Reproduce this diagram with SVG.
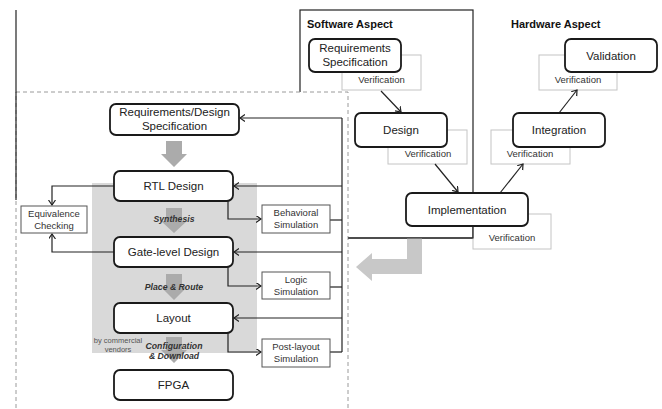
<svg xmlns="http://www.w3.org/2000/svg" width="662" height="409" viewBox="0 0 662 409">
  <style>
    text { font-family: "Liberation Sans", Arial, sans-serif; fill: #222; text-anchor: middle; }
    .node { fill: #fff; stroke: #1a1a1a; stroke-width: 1.8; }
    .t { font-size: 11.5px; }
    .box { fill: #fff; stroke: #555; stroke-width: 1; }
    .ver { fill: #fff; stroke: #c4c4c4; stroke-width: 1; }
    .s { font-size: 9.5px; fill: #333; }
    .step { font-size: 8.7px; font-weight: bold; font-style: italic; fill: #333; }
    .head { font-size: 11px; font-weight: bold; text-anchor: start; fill: #111; }
    .flow { fill: #ababab; }
    .wire { fill: none; stroke: #222; stroke-width: 1.2; }
  </style>
  <defs>
    <marker id="arr" markerUnits="userSpaceOnUse" markerWidth="8" markerHeight="8" refX="5" refY="3.5" orient="auto">
      <path d="M0,0 L5,3.5 L0,7" fill="none" stroke="#222" stroke-width="1.2"/>
    </marker>
  </defs>

  <rect width="662" height="409" fill="#fff"/>

  <!-- software aspect frame -->
  <rect x="300" y="10" width="173" height="228" fill="none" stroke="#222" stroke-width="1.2"/>
  <text class="head" x="307" y="28">Software Aspect</text>
  <text class="head" x="511" y="28">Hardware Aspect</text>

  <!-- FPGA design flow region -->
  <rect x="16" y="92" width="332" height="330" fill="#fff" stroke="#9a9a9a" stroke-width="1" stroke-dasharray="4,3"/>
  <line x1="16" y1="10" x2="16" y2="200" stroke="#222" stroke-width="1.2"/>
  <rect x="92" y="183" width="165" height="170" fill="#d9d9d9"/>

  <!-- block arrows -->
  <path class="flow" d="M166,141 H182 V154 H187 L174,167 L161,154 H166 Z" fill="#a0a0a0"/>
  <path class="flow" d="M166,208 H182 V221 H187 L174,233 L161,221 H166 Z"/>
  <path class="flow" d="M166,274 H182 V287 H187 L174,300 L161,287 H166 Z"/>
  <path class="flow" d="M166,337 H182 V350 H187 L174,363 L161,350 H166 Z"/>
  <path d="M407,238 H422 V274 H372 V281 L356,267 L372,253 V259 H407 Z" fill="#c8c8c8"/>

  <text class="step" x="174" y="222">Synthesis</text>
  <text class="step" x="174" y="290">Place &amp; Route</text>
  <text class="step" x="174" y="349">Configuration</text>
  <text class="step" x="174" y="359">&amp; Download</text>
  <text x="118" y="343" style="font-size:7.5px;fill:#555">by commercial</text>
  <text x="118" y="352" style="font-size:7.5px;fill:#555">vendors</text>

  <!-- verification boxes -->
  <g id="verif">
    <rect class="ver" x="342" y="55" width="79" height="35"/>
    <text class="s" x="381.5" y="83">Verification</text>
    <rect class="ver" x="388" y="130" width="79" height="34"/>
    <text class="s" x="428" y="157">Verification</text>
    <rect class="ver" x="473" y="214" width="78" height="35"/>
    <text class="s" x="512" y="241">Verification</text>
    <rect class="ver" x="491" y="130" width="79" height="34"/>
    <text class="s" x="530" y="157">Verification</text>
    <rect class="ver" x="539" y="55" width="78" height="35"/>
    <text class="s" x="578" y="83">Verification</text>
  </g>

  <!-- connectors -->
  <g id="connectors" class="wire">
    <path d="M381,91 L401,112" marker-end="url(#arr)"/>
    <path d="M435,164 L458,192" marker-end="url(#arr)"/>
    <path d="M500,193 L523,164" marker-end="url(#arr)"/>
    <path d="M559,113 L577,90" marker-end="url(#arr)"/>
    <path d="M473,226 V238 H348"/>

    <path d="M114,186 H52 V205" marker-end="url(#arr)"/>
    <path d="M114,252 H52 V234" marker-end="url(#arr)"/>
    <path d="M228,201 V219 H261" marker-end="url(#arr)"/>
    <path d="M228,267 V286 H261" marker-end="url(#arr)"/>
    <path d="M228,333 V352 H261" marker-end="url(#arr)"/>

    <path d="M342,118 V352"/>
    <path d="M342,118 H240" marker-end="url(#arr)"/>
    <path d="M342,186 H234" marker-end="url(#arr)"/>
    <path d="M342,252 H234" marker-end="url(#arr)"/>
    <path d="M342,318 H234" marker-end="url(#arr)"/>
    <path d="M330,220 H342"/>
    <path d="M330,287 H342"/>
    <path d="M330,352 H342"/>
  </g>

  <!-- software / hardware aspect nodes -->
  <g id="sw-req">
    <rect class="node" x="309" y="39" width="92" height="33" rx="6"/>
    <text class="t" x="355" y="52">Requirements</text>
    <text class="t" x="355" y="66">Specification</text>
  </g>
  <g id="sw-design">
    <rect class="node" x="355" y="113" width="92" height="34" rx="6"/>
    <text class="t" x="401" y="134">Design</text>
  </g>
  <g id="implementation">
    <rect class="node" x="406" y="193" width="122" height="33" rx="6"/>
    <text class="t" x="467" y="213.5">Implementation</text>
  </g>
  <g id="integration">
    <rect class="node" x="513" y="113" width="92" height="34" rx="6"/>
    <text class="t" x="559" y="134">Integration</text>
  </g>
  <g id="validation">
    <rect class="node" x="565" y="39" width="92" height="33" rx="6"/>
    <text class="t" x="611" y="59.5">Validation</text>
  </g>

  <!-- FPGA flow nodes -->
  <g id="req-design-spec">
    <rect class="node" x="110" y="104" width="129" height="31" rx="6"/>
    <text class="t" x="174.5" y="116">Requirements/Design</text>
    <text class="t" x="174.5" y="130">Specification</text>
  </g>
  <g id="rtl">
    <rect class="node" x="114" y="171" width="119" height="30" rx="6"/>
    <text class="t" x="173.5" y="190">RTL Design</text>
  </g>
  <g id="gate">
    <rect class="node" x="114" y="237" width="119" height="30" rx="6"/>
    <text class="t" x="173.5" y="256">Gate-level Design</text>
  </g>
  <g id="layout">
    <rect class="node" x="114" y="303" width="119" height="30" rx="6"/>
    <text class="t" x="173.5" y="322">Layout</text>
  </g>
  <g id="fpga">
    <rect class="node" x="114" y="370" width="119" height="30" rx="6"/>
    <text class="t" x="173.5" y="389">FPGA</text>
  </g>
  <g id="equivalence">
    <rect class="box" x="21" y="206" width="66" height="27"/>
    <text class="s" x="54" y="216.5">Equivalence</text>
    <text class="s" x="54" y="228.5">Checking</text>
  </g>
  <g id="behavioral">
    <rect class="box" x="262" y="205" width="68" height="28"/>
    <text class="s" x="296" y="216">Behavioral</text>
    <text class="s" x="296" y="228">Simulation</text>
  </g>
  <g id="logic">
    <rect class="box" x="262" y="272" width="68" height="27"/>
    <text class="s" x="296" y="282.5">Logic</text>
    <text class="s" x="296" y="294.5">Simulation</text>
  </g>
  <g id="postlayout">
    <rect class="box" x="262" y="339" width="68" height="28"/>
    <text class="s" x="296" y="350">Post-layout</text>
    <text class="s" x="296" y="362">Simulation</text>
  </g>
</svg>
